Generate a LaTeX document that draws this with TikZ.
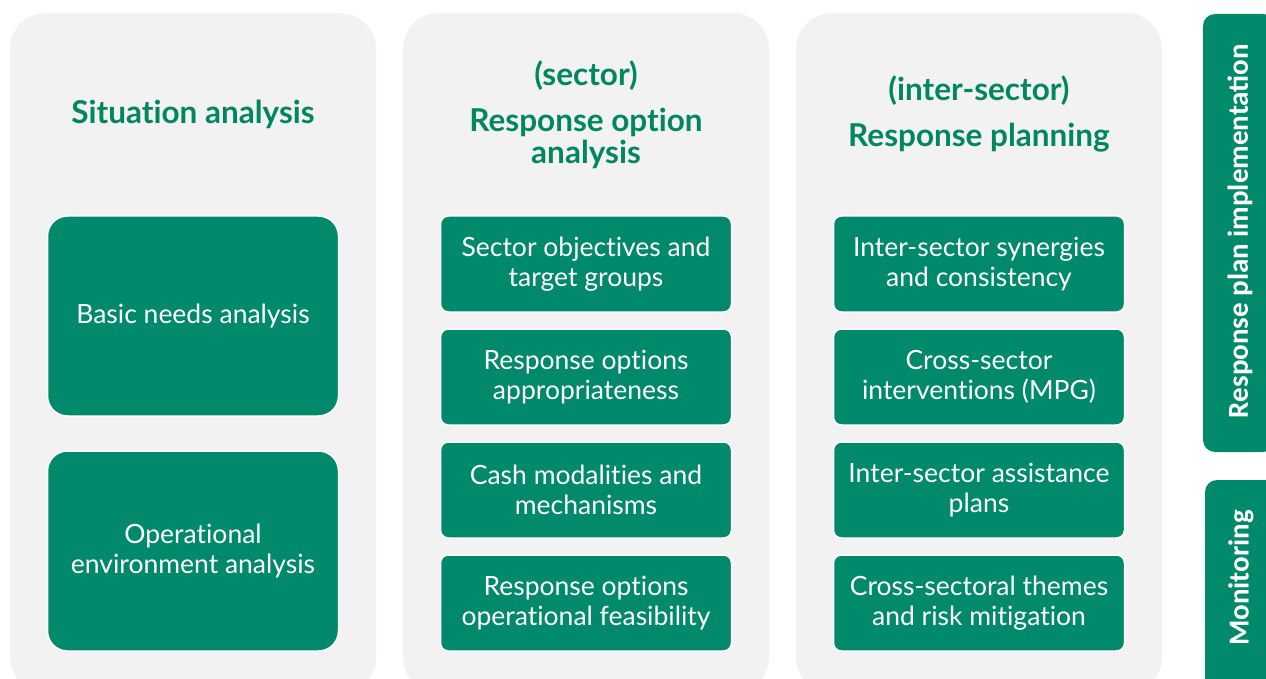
\documentclass[tikz,border=0pt]{standalone}
\usepackage{fontspec}
\setmainfont{Lato}[Ligatures={CommonOff,ContextualOff}, Contextuals=AlternateOff]
\newfontfamily\barfont{Carlito}
\usepackage{tikz}
\usetikzlibrary{positioning}

\definecolor{stepgreen}{HTML}{00896A}
\definecolor{titlegreen}{HTML}{00875F}
\definecolor{panelgray}{HTML}{F2F2F2}

\begin{document}
\begin{tikzpicture}[
  x=1pt, y=-1pt,
  panel/.style={fill=panelgray, rounded corners=36pt, minimum width=366pt, minimum height=680pt, inner sep=0pt},
  head/.style={text=titlegreen, font=\fontsize{31.5}{32}\selectfont\bfseries, align=center},
  bigbox/.style={fill=stepgreen, draw=white, line width=1.5pt, rounded corners=20pt, minimum width=291pt, minimum height=200pt, text=white, font=\fontsize{26.5}{30}\selectfont, align=center},
  smallbox/.style={bigbox, rounded corners=8pt, minimum height=96pt},
  sidebar/.style={fill=stepgreen, rounded corners=12pt, inner sep=0pt, minimum width=72pt},
  sidetext/.style={rotate=90, text=white, font=\barfont\fontsize{29}{32}\selectfont\bfseries}
]
\useasboundingbox (0,0) rectangle (1266,679);

% three columns
\node[panel] (situation) at (193,353) {};
\node[panel] (sector)    at (586,353) {};
\node[panel] (inter)     at (979,353) {};

% column headings
\node[head] (situationhead) at (193,114) {Situation analysis};
\node[head] (sectortag)     at (586,76)  {(sector)};
\node[head] (sectorhead)    at (586,138) {Response option\\analysis};
\node[head] (intertag)      at (979,91)  {(inter-sector)};
\node[head] (interhead)     at (979,138) {Response planning};

% situation analysis
\node[bigbox] (needs) at (193,316) {Basic needs analysis};
\node[bigbox] (environment) at (193,551) {Operational\\environment analysis};

% sector response options
\node[smallbox] (objectives)  at (586,264) {Sector objectives and\\target groups};
\node[smallbox] (appropriate) at (586,377) {Response options\\appropriateness};
\node[smallbox] (modalities)  at (586,490) {Cash modalities and\\mechanisms};
\node[smallbox] (feasibility) at (586,603) {Response options\\operational feasibility};

% inter-sector planning
\node[smallbox] (synergies)     at (979,264) {Inter-sector synergies\\and consistency};
\node[smallbox] (interventions) at (979,377) {Cross-sector\\interventions (MPG)};
\node[smallbox] (plans)         at (979,490) {Inter-sector assistance\\plans};
\node[smallbox] (themes)        at (979,603) {Cross-sectoral themes\\and risk mitigation};

% side bars
\node[sidebar, minimum height=438pt] (implementation) at (1239,233) {};
\node[sidebar, minimum height=220pt] (monitoring) at (1241,590) {};
\node[sidetext] at (1240,231) {Response plan implementation};
\node[sidetext] at (1241,578) {Monitoring};
\end{tikzpicture}
\end{document}
